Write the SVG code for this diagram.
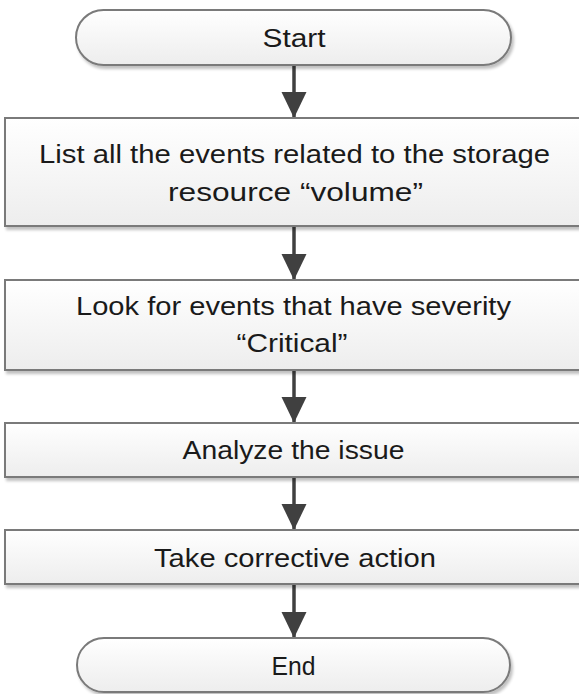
<svg xmlns="http://www.w3.org/2000/svg" width="579" height="694" viewBox="0 0 579 694">
  <style>
    .shape { fill: url(#grad); stroke: #7a7a7a; stroke-width: 2; filter: url(#shadow); }
    .label { font-family: "Liberation Sans", Arial, sans-serif; font-size: 26px; fill: #1a1a1a; text-anchor: middle; }
    .conn { stroke: #404040; stroke-width: 3.5; fill: none; marker-end: url(#arrow); }
  </style>
  <defs>
    <linearGradient id="grad" x1="0" y1="0" x2="0" y2="1">
      <stop offset="0" stop-color="#ffffff"/>
      <stop offset="1" stop-color="#ededed"/>
    </linearGradient>
    <filter id="shadow" x="-5%" y="-10%" width="110%" height="130%">
      <feGaussianBlur in="SourceAlpha" stdDeviation="1.5"/>
      <feOffset dx="2" dy="3" result="b"/>
      <feComponentTransfer><feFuncA type="linear" slope="0.25"/></feComponentTransfer>
      <feMerge><feMergeNode/><feMergeNode in="SourceGraphic"/></feMerge>
    </filter>
    <marker id="arrow" viewBox="0 0 25 26" refX="25" refY="12.5" markerWidth="25" markerHeight="26" markerUnits="userSpaceOnUse" orient="auto">
      <path d="M0,0 L26,12.5 L0,25 Z" fill="#404040"/>
    </marker>
  </defs>

  <g id="connectors">
    <line class="conn" x1="294" y1="66" x2="294" y2="117"/>
    <line class="conn" x1="294" y1="227" x2="294" y2="279"/>
    <line class="conn" x1="294" y1="371" x2="294" y2="422"/>
    <line class="conn" x1="294" y1="478" x2="294" y2="529"/>
    <line class="conn" x1="294" y1="585" x2="294" y2="637"/>
  </g>

  <g id="start">
    <rect class="shape" x="76" y="10" width="435" height="55" rx="27.5" ry="27.5"/>
    <text class="label" x="294" y="46.5" textLength="63" lengthAdjust="spacingAndGlyphs">Start</text>
  </g>

  <g id="list-events">
    <rect class="shape" x="5" y="118" width="590" height="108"/>
    <text class="label" x="294.5" y="163" textLength="511" lengthAdjust="spacingAndGlyphs">List all the events related to the storage</text>
    <text class="label" x="295.5" y="200.5" textLength="255" lengthAdjust="spacingAndGlyphs">resource “volume”</text>
  </g>

  <g id="look-critical">
    <rect class="shape" x="5" y="280" width="590" height="90"/>
    <text class="label" x="293.5" y="315" textLength="435" lengthAdjust="spacingAndGlyphs">Look for events that have severity</text>
    <text class="label" x="292" y="351.5" textLength="111" lengthAdjust="spacingAndGlyphs">“Critical”</text>
  </g>

  <g id="analyze">
    <rect class="shape" x="5" y="423" width="590" height="54"/>
    <text class="label" x="293.5" y="459" textLength="222" lengthAdjust="spacingAndGlyphs">Analyze the issue</text>
  </g>

  <g id="corrective">
    <rect class="shape" x="5" y="530" width="590" height="54"/>
    <text class="label" x="295" y="566.5" textLength="282" lengthAdjust="spacingAndGlyphs">Take corrective action</text>
  </g>

  <g id="end">
    <rect class="shape" x="77" y="638" width="433" height="54" rx="27" ry="27"/>
    <text class="label" x="293.5" y="675" textLength="44" lengthAdjust="spacingAndGlyphs">End</text>
  </g>
</svg>
